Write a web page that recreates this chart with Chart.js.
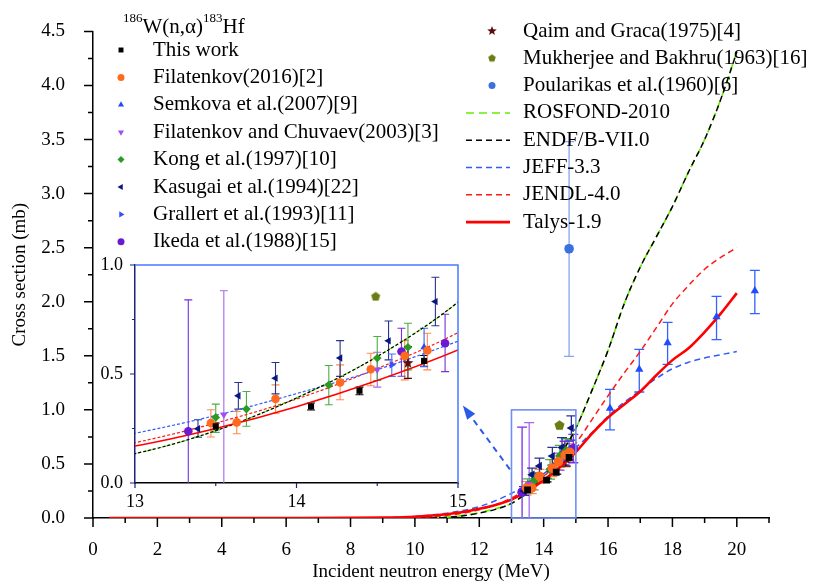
<!DOCTYPE html>
<html>
<head>
<meta charset="utf-8">
<script src="https://cdn.jsdelivr.net/npm/chart.js@4.4.0/dist/chart.umd.min.js"></script>
<style>
  html, body { margin: 0; padding: 0; background: #fff; }
  #wrap { position: relative; width: 820px; height: 588px; }
  #wrap canvas { position: absolute; left: 0; top: 0; }
</style>
</head>
<body>
<div id="wrap">
  <canvas id="main" width="820" height="588"></canvas>
  <canvas id="inset" width="820" height="588"></canvas>
</div>
<script>
// ---- axis ticks ----
const xTicks = [0, 2, 4, 6, 8, 10, 12, 14, 16, 18, 20];
const xMinorTicks = [1, 3, 5, 7, 9, 11, 13, 15, 17, 19, 21];
const yTicks = [0, 0.5, 1.0, 1.5, 2.0, 2.5, 3.0, 3.5, 4.0, 4.5];
const yMinorTicks = [0.25, 0.75, 1.25, 1.75, 2.25, 2.75, 3.25, 3.75, 4.25];
const insetXTicks = [13, 14, 15];
const insetXMinor = [13.5, 14.5];
const insetYTicks = [0, 0.5, 1.0];
const insetYMinor = [0.25, 0.75];

// ---- measurements (energy MeV, cross section mb, error bar low / high) ----
const thisWorkE  = [13.50, 14.09, 14.39, 14.79];
const thisWorkCS = [0.260, 0.351, 0.423, 0.560];
const thisWorkLo = [0.245, 0.335, 0.405, 0.535];
const thisWorkHi = [0.275, 0.367, 0.440, 0.585];

const filat16E  = [13.47, 13.63, 13.87, 14.27, 14.46, 14.67, 14.81];
const filat16CS = [0.275, 0.278, 0.386, 0.461, 0.522, 0.583, 0.608];
const filat16Lo = [0.211, 0.226, 0.320, 0.382, 0.446, 0.473, 0.519];
const filat16Hi = [0.336, 0.328, 0.450, 0.542, 0.595, 0.653, 0.687];

const semkovaE  = [14.79, 16.06, 16.97, 17.85, 19.37, 20.56];
const semkovaCS = [0.623, 1.015, 1.375, 1.620, 1.860, 2.100];
const semkovaLo = [0.534, 0.815, 1.165, 1.420, 1.650, 1.890];
const semkovaHi = [0.710, 1.190, 1.560, 1.810, 2.050, 2.290];

const filChuE  = [13.55, 14.50];
const filChuCS = [0.313, 0.520];
const filChuLo = [-0.10, 0.440];
const filChuHi = [0.882, 0.600];

const kongE  = [13.50, 13.69, 14.20, 14.50, 14.69];
const kongCS = [0.301, 0.339, 0.450, 0.573, 0.623];
const kongLo = [0.232, 0.260, 0.359, 0.470, 0.519];
const kongHi = [0.362, 0.420, 0.539, 0.672, 0.733];

const kasugaiE  = [13.39, 13.64, 13.87, 14.27, 14.57, 14.86];
const kasugaiCS = [0.249, 0.400, 0.481, 0.573, 0.652, 0.832];
const kasugaiLo = [0.210, 0.339, 0.409, 0.489, 0.565, 0.721];
const kasugaiHi = [0.290, 0.461, 0.553, 0.653, 0.743, 0.944];

const grallertE  = [14.59];
const grallertCS = [0.542];
const grallertLo = [0.489];
const grallertHi = [0.592];

const ikedaE  = [13.33, 14.65, 14.92];
const ikedaCS = [0.237, 0.603, 0.641];
const ikedaLo = [-0.10, 0.490, 0.511];
const ikedaHi = [0.840, 0.710, 0.774];

const qaimE  = [14.69];
const qaimCS = [0.550];
const qaimLo = [0.480];
const qaimHi = [0.626];

const mukherjeeE  = [14.49];
const mukherjeeCS = [0.855];

const poularikasE  = [14.79];
const poularikasCS = [2.490];
const poularikasLo = [1.494];
const poularikasHi = [3.480];

// ---- evaluated / model curves ----
const modelE    = [0.5, 2, 4, 6, 8, 9, 10, 10.5, 11, 11.5, 12, 12.5, 13, 13.5, 14, 14.5, 15, 15.5, 16, 16.5, 17, 17.5, 18, 18.5, 19, 19.5, 20];
const talysCS   = [0, 0, 0, 0, 0.001, 0.004, 0.012, 0.022, 0.035, 0.055, 0.085, 0.12, 0.17, 0.25, 0.35, 0.47, 0.61, 0.78, 0.93, 1.05, 1.17, 1.32, 1.46, 1.57, 1.72, 1.89, 2.08];
const jeffCS    = [null, null, null, null, null, 0.003, 0.015, 0.028, 0.045, 0.07, 0.105, 0.16, 0.228, 0.31, 0.41, 0.52, 0.65, 0.79, 0.94, 1.07, 1.18, 1.29, 1.38, 1.44, 1.48, 1.51, 1.54];
const jendlCS   = [null, null, null, null, null, null, 0.004, 0.012, 0.025, 0.045, 0.075, 0.12, 0.185, 0.275, 0.385, 0.525, 0.69, 0.91, 1.13, 1.34, 1.54, 1.76, 1.98, 2.15, 2.30, 2.41, 2.50];
const endfCS    = [null, null, null, null, null, null, null, 0, 0.006, 0.02, 0.045, 0.08, 0.135, 0.24, 0.39, 0.58, 0.83, 1.18, 1.55, 1.98, 2.32, 2.60, 2.88, 3.20, 3.50, 3.87, 4.31];
const rosfondCS = [null, null, null, null, null, null, null, 0, 0.008, 0.024, 0.05, 0.085, 0.135, 0.24, 0.39, 0.58, 0.83, 1.18, 1.55, 1.98, 2.32, 2.60, 2.88, 3.20, 3.50, 3.87, 4.31];

const FONT = "'Liberation Serif', 'Times New Roman', serif";

const markerSeries = [
  { label: 'This work', x: thisWorkE, y: thisWorkCS, lo: thisWorkLo, hi: thisWorkHi, shape: 'rect', color: '#000000', bar: '#000000' },
  { label: 'Filatenkov(2016)[2]', x: filat16E, y: filat16CS, lo: filat16Lo, hi: filat16Hi, shape: 'circle', color: '#ff6a1f', bar: '#ff8a4c' },
  { label: 'Semkova et al.(2007)[9]', x: semkovaE, y: semkovaCS, lo: semkovaLo, hi: semkovaHi, shape: 'triangle', color: '#1f4cff', bar: '#3462ff' },
  { label: 'Filatenkov and Chuvaev(2003)[3]', x: filChuE, y: filChuCS, lo: filChuLo, hi: filChuHi, shape: 'triangle', rot: 180, color: '#a04ef2', bar: '#a866ee' },
  { label: 'Kong et al.(1997)[10]', x: kongE, y: kongCS, lo: kongLo, hi: kongHi, shape: 'rectRot', color: '#2b9a22', bar: '#4cae44' },
  { label: 'Kasugai et al.(1994)[22]', x: kasugaiE, y: kasugaiCS, lo: kasugaiLo, hi: kasugaiHi, shape: 'triangle', rot: 270, color: '#0a1780', bar: '#28348f' },
  { label: 'Grallert et al.(1993)[11]', x: grallertE, y: grallertCS, lo: grallertLo, hi: grallertHi, shape: 'triangle', rot: 90, color: '#3a4cff', bar: '#4c6cff' },
  { label: 'Ikeda et al.(1988)[15]', x: ikedaE, y: ikedaCS, lo: ikedaLo, hi: ikedaHi, shape: 'circle', color: '#6a1ad2', bar: '#7a2ee0' },
  { label: 'Qaim and Graca(1975)[4]', x: qaimE, y: qaimCS, lo: qaimLo, hi: qaimHi, shape: 'star', color: '#5a0c0c', bar: '#3a0c0c' },
  { label: 'Mukherjee and Bakhru(1963)[16]', x: mukherjeeE, y: mukherjeeCS, shape: 'pentagon', color: '#6b7d12' },
  { label: 'Poularikas et al.(1960)[6]', x: poularikasE, y: poularikasCS, lo: poularikasLo, hi: poularikasHi, shape: 'circle', color: '#3a70e0', bar: '#86a4f0' }
];

const curveSeries = [
  { label: 'ROSFOND-2010', y: rosfondCS, color: '#66ee00', dash: [8, 5], insetDash: [4, 3], width: 1.6, order: 4 },
  { label: 'ENDF/B-VII.0', y: endfCS, color: '#000000', dash: [6, 4], insetDash: [3, 2], width: 1.5, order: 3 },
  { label: 'JEFF-3.3', y: jeffCS, color: '#2f5cff', dash: [6, 4], insetDash: [3, 2], width: 1.5, order: 5 },
  { label: 'JENDL-4.0', y: jendlCS, color: '#ff1a1a', dash: [6, 4], insetDash: [3, 2], width: 1.5, order: 6 },
  { label: 'Talys-1.9', y: talysCS, color: '#ff0000', dash: [], insetDash: [], width: 2.6, order: 2 }
];

// filled star / pentagon markers as small canvases
function shapeCanvas(kind, r, color) {
  const c = document.createElement('canvas');
  const s = Math.ceil(2 * r + 2);
  c.width = s; c.height = s;
  const g = c.getContext('2d');
  g.fillStyle = color;
  g.beginPath();
  const n = kind === 'star' ? 10 : 5;
  for (let i = 0; i < n; i++) {
    const a = -Math.PI / 2 + i * 2 * Math.PI / n;
    const rr = (kind === 'star' && i % 2) ? r * 0.42 : r;
    const px = s / 2 + rr * Math.cos(a), py = s / 2 + rr * Math.sin(a);
    if (i) g.lineTo(px, py); else g.moveTo(px, py);
  }
  g.closePath();
  g.fill();
  return c;
}

function markerStyle(s, r) {
  if (s.shape === 'star') return shapeCanvas('star', r + 1.5, s.color);
  if (s.shape === 'pentagon') return shapeCanvas('pentagon', r + 0.5, s.color);
  return s.shape;
}

function buildDatasets(inset) {
  const r = inset ? 4.3 : 4.8;
  const sets = [];
  markerSeries.forEach(s => {
    sets.push({
      label: s.label,
      data: s.x.map((v, i) => ({ x: v, y: s.y[i] })),
      errLo: s.lo, errHi: s.hi, barColor: s.bar,
      pointStyle: markerStyle(s, r),
      rotation: s.rot || 0,
      pointRadius: r,
      backgroundColor: s.color,
      borderColor: s.color,
      borderWidth: 0,
      showLine: false,
      order: 0
    });
  });
  curveSeries.forEach(c => {
    const pts = [];
    modelE.forEach((e, i) => { if (c.y[i] !== null) pts.push({ x: e, y: c.y[i] }); });
    sets.push({
      label: c.label,
      data: pts,
      showLine: true,
      pointRadius: 0,
      borderColor: c.color,
      borderWidth: inset ? (c.dash.length ? 1.2 : 1.5) : c.width,
      borderDash: inset ? c.insetDash : c.dash,
      cubicInterpolationMode: 'monotone',
      fill: false,
      order: c.order
    });
  });
  return sets;
}

// error bars, drawn under the markers
const errorBars = {
  id: 'errorBars',
  beforeDatasetsDraw(chart, args, o) {
    const { ctx, chartArea: a, scales: { x, y } } = chart;
    ctx.save();
    ctx.beginPath();
    ctx.rect(a.left, a.top, a.right - a.left, a.bottom - a.top);
    ctx.clip();
    ctx.lineWidth = o.width;
    chart.data.datasets.forEach(ds => {
      if (!ds.errLo) return;
      ctx.strokeStyle = ds.barColor;
      ds.data.forEach((p, i) => {
        const px = x.getPixelForValue(p.x);
        const top = y.getPixelForValue(ds.errHi[i]);
        const bot = y.getPixelForValue(ds.errLo[i]);
        ctx.beginPath();
        ctx.moveTo(px, top); ctx.lineTo(px, bot);
        ctx.moveTo(px - o.cap, top); ctx.lineTo(px + o.cap, top);
        ctx.moveTo(px - o.cap, bot); ctx.lineTo(px + o.cap, bot);
        ctx.stroke();
      });
    });
    ctx.restore();
  }
};

// outward major / minor tick marks
const axisTicks = {
  id: 'axisTicks',
  afterDraw(chart, args, o) {
    const { ctx, chartArea: a, scales: { x, y } } = chart;
    ctx.save();
    ctx.strokeStyle = o.color;
    ctx.lineWidth = o.width;
    ctx.beginPath();
    o.xMajor.forEach(v => { const p = x.getPixelForValue(v); ctx.moveTo(p, a.bottom); ctx.lineTo(p, a.bottom + o.major); });
    o.xMinor.forEach(v => { const p = x.getPixelForValue(v); ctx.moveTo(p, a.bottom); ctx.lineTo(p, a.bottom + o.minor); });
    o.yMajor.forEach(v => { const p = y.getPixelForValue(v); ctx.moveTo(a.left, p); ctx.lineTo(a.left - o.major, p); });
    o.yMinor.forEach(v => { const p = y.getPixelForValue(v); ctx.moveTo(a.left, p); ctx.lineTo(a.left - o.minor, p); });
    ctx.stroke();
    ctx.restore();
  }
};

// zoom box, arrow and the two legend columns of the main plot
const mainDecor = {
  id: 'mainDecor',
  afterDraw(chart) {
    const { ctx, scales: { x, y } } = chart;
    ctx.save();
    // zoom box 13-15 MeV, 0-1 mb
    ctx.strokeStyle = '#6f8ff5';
    ctx.lineWidth = 1.6;
    const bx0 = x.getPixelForValue(13), bx1 = x.getPixelForValue(15);
    const by0 = y.getPixelForValue(0), by1 = y.getPixelForValue(1);
    ctx.strokeRect(bx0, by1, bx1 - bx0, by0 - by1);
    // dashed arrow toward the inset
    const ax0 = x.getPixelForValue(12.95), ay0 = y.getPixelForValue(0.45);
    const ax1 = x.getPixelForValue(11.49), ay1 = y.getPixelForValue(1.04);
    const ang = Math.atan2(ay1 - ay0, ax1 - ax0);
    ctx.strokeStyle = '#2a5ae8';
    ctx.fillStyle = '#2a5ae8';
    ctx.lineWidth = 2;
    ctx.setLineDash([6, 5]);
    ctx.beginPath();
    ctx.moveTo(ax0, ay0);
    ctx.lineTo(ax1 - 10 * Math.cos(ang), ay1 - 10 * Math.sin(ang));
    ctx.stroke();
    ctx.setLineDash([]);
    ctx.beginPath();
    ctx.moveTo(ax1, ay1);
    ctx.lineTo(ax1 - 14 * Math.cos(ang) + 5 * Math.sin(ang), ay1 - 14 * Math.sin(ang) - 5 * Math.cos(ang));
    ctx.lineTo(ax1 - 14 * Math.cos(ang) - 5 * Math.sin(ang), ay1 - 14 * Math.sin(ang) + 5 * Math.cos(ang));
    ctx.closePath();
    ctx.fill();

    // legend title with superscripts
    ctx.fillStyle = '#000';
    ctx.textBaseline = 'alphabetic';
    ctx.textAlign = 'left';
    let tx = 123;
    [['186', true], ['W(n,\u03b1)', false], ['183', true], ['Hf', false]].forEach(([t, sup]) => {
      ctx.font = (sup ? '13px ' : '21px ') + FONT;
      ctx.fillText(t, tx, sup ? 22 : 33);
      tx += ctx.measureText(t).width;
    });

    // legend entries
    ctx.font = '21px ' + FONT;
    ctx.textBaseline = 'middle';
    const drawMarker = (s, mx, my) => {
      ctx.fillStyle = s.color;
      ctx.strokeStyle = s.color;
      Chart.helpers.drawPoint(ctx, { pointStyle: markerStyle(s, 3.5), rotation: s.rot || 0, radius: 3.5, borderWidth: 0 }, mx, my);
    };
    markerSeries.slice(0, 8).forEach((s, i) => {
      const my = 50 + i * 27.4;
      drawMarker(s, 121, my);
      ctx.fillStyle = '#000';
      ctx.fillText(s.label, 153, my);
    });
    const right = markerSeries.slice(8).concat(curveSeries);
    right.forEach((s, i) => {
      const my = 31 + i * 27.3;
      if (s.x) {
        drawMarker(s, 492, my);
      } else {
        ctx.strokeStyle = s.color;
        ctx.lineWidth = s.dash.length ? 1.5 : 2.6;
        ctx.setLineDash(s.dash);
        ctx.beginPath();
        ctx.moveTo(466, my); ctx.lineTo(510, my);
        ctx.stroke();
        ctx.setLineDash([]);
      }
      ctx.fillStyle = '#000';
      ctx.fillText(s.label, 523, my);
    });
    ctx.restore();
  }
};

// white panel behind the inset, blue top/right frame
const insetFrame = {
  id: 'insetFrame',
  beforeDraw(chart) {
    const { ctx, chartArea: a } = chart;
    ctx.save();
    ctx.fillStyle = '#ffffff';
    ctx.fillRect(a.left, a.top, a.right - a.left, a.bottom - a.top);
    ctx.restore();
  },
  afterDraw(chart) {
    const { ctx, chartArea: a } = chart;
    ctx.save();
    ctx.strokeStyle = '#4a78ff';
    ctx.lineWidth = 1.5;
    ctx.beginPath();
    ctx.moveTo(a.left, a.top); ctx.lineTo(a.right, a.top); ctx.lineTo(a.right, a.bottom);
    ctx.stroke();
    ctx.restore();
  }
};

function axisOptions(cfg) {
  return {
    type: 'linear',
    min: cfg.min,
    max: cfg.max,
    afterBuildTicks: s => { s.ticks = cfg.ticks.map(v => ({ value: v })); },
    afterFit: s => { if (cfg.width) s.width = cfg.width; if (cfg.height) s.height = cfg.height; },
    grid: { display: false },
    border: { display: true, color: cfg.borderColor || '#000', width: 1.5 },
    ticks: {
      autoSkip: false, maxRotation: 0, color: '#000', padding: cfg.pad,
      font: { family: FONT, size: cfg.fontSize },
      callback: cfg.fmt
    },
    title: cfg.title ? { display: true, text: cfg.title, color: '#000', padding: cfg.titlePad, font: { family: FONT, size: 19 } } : { display: false }
  };
}

Chart.defaults.font.family = FONT;

new Chart(document.getElementById('main'), {
  type: 'scatter',
  data: { datasets: buildDatasets(false) },
  options: {
    responsive: false,
    animation: false,
    events: [],
    layout: { padding: { left: 0, top: 17, right: 51, bottom: 0 } },
    plugins: {
      legend: { display: false },
      tooltip: { enabled: false },
      errorBars: { cap: 5, width: 1.3 },
      axisTicks: { color: '#000', width: 1.5, major: 9, minor: 5, xMajor: xTicks, xMinor: xMinorTicks, yMajor: yTicks, yMinor: yMinorTicks }
    },
    scales: {
      x: axisOptions({ min: 0, max: 21, ticks: xTicks, height: 70, pad: 13, fontSize: 19, fmt: v => String(v), title: 'Incident neutron energy (MeV)', titlePad: 5 }),
      y: axisOptions({ min: 0, max: 4.5, ticks: yTicks, width: 93, pad: 20, fontSize: 19, fmt: v => v.toFixed(1), title: 'Cross section (mb)', titlePad: 9 })
    }
  },
  plugins: [errorBars, axisTicks, mainDecor]
});

new Chart(document.getElementById('inset'), {
  type: 'scatter',
  data: { datasets: buildDatasets(true) },
  options: {
    responsive: false,
    animation: false,
    events: [],
    layout: { padding: { left: 0, top: 265, right: 362, bottom: 0 } },
    plugins: {
      legend: { display: false },
      tooltip: { enabled: false },
      errorBars: { cap: 4, width: 1.1 },
      axisTicks: { color: '#1a237e', width: 1.2, major: 5, minor: 3, xMajor: insetXTicks, xMinor: insetXMinor, yMajor: insetYTicks, yMinor: insetYMinor }
    },
    scales: {
      x: axisOptions({ min: 13, max: 15, ticks: insetXTicks, height: 105, pad: 0, fontSize: 18, fmt: v => String(v) }),
      y: axisOptions({ min: 0, max: 1, ticks: insetYTicks, width: 135, pad: 4, fontSize: 18, fmt: v => v.toFixed(1), borderColor: '#1a237e' })
    }
  },
  plugins: [insetFrame, errorBars, axisTicks]
});
</script>
</body>
</html>
